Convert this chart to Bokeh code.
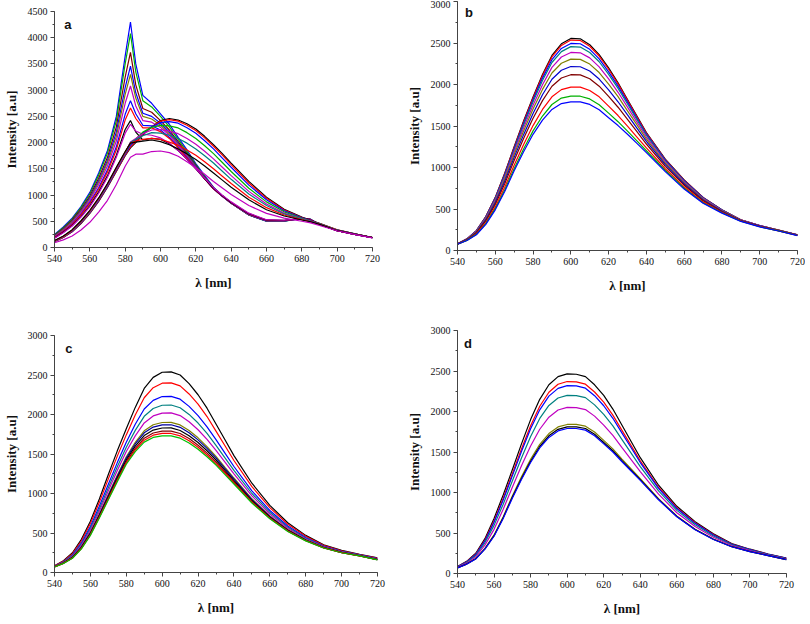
from bokeh.plotting import figure
from bokeh.layouts import row, column
from bokeh.models import Range1d, Label, SingleIntervalTicker
from bokeh.embed import file_html
from bokeh.resources import INLINE

# ---------------- data ----------------
# panel a wavelengths (nm)
wl_a = [540, 545, 550, 555, 560, 565, 570, 575, 580, 583, 586, 590, 595, 600, 605,
        610, 615, 620, 625, 630, 635, 640, 650, 660, 670, 680, 685, 690, 700, 710, 720]

# panel a : spectra with the sharp band at ~583 nm
a_peaked = [
    [250, 390, 560, 780, 1050, 1420, 1850, 2500, 3650, 4300, 3500, 2900, 2750, 2550, 2350, 2100, 1860, 1600, 1370, 1150, 990, 850, 620, 500, 500, 560, 540, 440, 320, 250, 190],
    [240, 375, 540, 760, 1020, 1380, 1800, 2420, 3500, 4080, 3350, 2800, 2680, 2500, 2300, 2060, 1825, 1580, 1350, 1140, 985, 850, 620, 500, 500, 555, 535, 440, 320, 250, 190],
    [230, 360, 520, 730, 980, 1320, 1720, 2300, 3250, 3720, 3100, 2650, 2580, 2420, 2240, 2020, 1790, 1560, 1335, 1130, 980, 845, 625, 505, 505, 555, 535, 440, 320, 250, 190],
    [220, 345, 500, 705, 950, 1275, 1660, 2200, 3050, 3460, 2950, 2560, 2500, 2370, 2200, 1990, 1770, 1545, 1325, 1125, 975, 845, 625, 505, 505, 550, 530, 440, 320, 250, 190],
    [215, 340, 490, 690, 930, 1245, 1620, 2120, 2920, 3300, 2850, 2500, 2450, 2330, 2170, 1970, 1755, 1535, 1320, 1120, 975, 845, 625, 510, 510, 550, 530, 440, 320, 250, 190],
    [205, 325, 470, 665, 900, 1200, 1560, 2030, 2750, 3080, 2700, 2420, 2390, 2290, 2140, 1950, 1740, 1525, 1315, 1120, 975, 850, 630, 510, 510, 550, 530, 440, 320, 250, 190],
    [195, 310, 450, 635, 860, 1140, 1480, 1920, 2540, 2800, 2550, 2330, 2320, 2240, 2100, 1920, 1720, 1515, 1310, 1120, 975, 850, 635, 515, 515, 550, 530, 440, 320, 250, 190],
    [190, 305, 440, 620, 840, 1110, 1440, 1860, 2430, 2660, 2460, 2280, 2280, 2210, 2080, 1900, 1705, 1510, 1310, 1120, 980, 855, 640, 520, 515, 550, 530, 440, 320, 250, 190],
    [180, 290, 420, 590, 800, 1060, 1370, 1760, 2250, 2420, 2200, 2050, 2080, 2060, 1980, 1850, 1680, 1500, 1310, 1130, 985, 860, 645, 525, 520, 550, 530, 440, 320, 250, 190],
    [175, 280, 410, 580, 780, 1035, 1340, 1720, 2180, 2350, 2220, 2160, 2140, 2090, 1990, 1850, 1680, 1500, 1320, 1140, 995, 870, 655, 530, 520, 550, 530, 440, 320, 250, 190],
]
a_peaked_colors = ["#0000FF", "#00B000", "#800000", "#0000FF", "#808000",
                   "#C000C0", "#0000FF", "#FF0000", "#000000", "#C000C0"]

# panel a : broad spectra centred near 600 nm
a_broad = [
    [110, 190, 300, 455, 650, 880, 1150, 1450, 1750, 1900, 2000, 2150, 2300, 2420, 2460, 2430, 2360, 2260, 2120, 1960, 1790, 1610, 1260, 960, 730, 580, 520, 460, 335, 260, 190],
    [115, 195, 305, 465, 660, 890, 1160, 1460, 1760, 1920, 2020, 2160, 2300, 2410, 2440, 2410, 2330, 2230, 2090, 1930, 1760, 1580, 1230, 940, 715, 570, 515, 455, 335, 260, 190],
    [120, 200, 310, 475, 670, 900, 1170, 1480, 1780, 1950, 2050, 2180, 2300, 2380, 2400, 2370, 2285, 2180, 2035, 1880, 1705, 1530, 1190, 910, 700, 565, 510, 450, 330, 260, 190],
    [125, 205, 320, 485, 680, 915, 1190, 1500, 1800, 1990, 2070, 2200, 2290, 2330, 2320, 2280, 2190, 2080, 1940, 1790, 1620, 1450, 1130, 870, 680, 555, 505, 450, 330, 260, 190],
    [125, 205, 320, 485, 680, 915, 1190, 1500, 1800, 2010, 2080, 2170, 2240, 2250, 2220, 2170, 2080, 1970, 1835, 1690, 1530, 1370, 1070, 830, 655, 545, 500, 445, 330, 255, 190],
    [130, 210, 330, 495, 690, 925, 1200, 1510, 1810, 2000, 2060, 2130, 2190, 2180, 2140, 2080, 1990, 1880, 1750, 1610, 1455, 1300, 1020, 800, 640, 540, 495, 445, 330, 255, 190],
    [130, 210, 330, 500, 700, 935, 1210, 1520, 1820, 1990, 2030, 2060, 2080, 2060, 2010, 1950, 1860, 1760, 1635, 1500, 1360, 1220, 960, 760, 620, 530, 490, 440, 325, 255, 190],
    [135, 220, 340, 510, 710, 945, 1220, 1530, 1830, 1990, 2010, 2030, 2050, 2020, 1960, 1880, 1785, 1680, 1555, 1420, 1285, 1150, 910, 720, 600, 525, 490, 440, 325, 255, 190],
    [90, 145, 220, 335, 480, 675, 900, 1200, 1550, 1720, 1780, 1780, 1830, 1840, 1810, 1740, 1635, 1520, 1395, 1260, 1135, 1010, 800, 650, 560, 500, 470, 420, 320, 250, 185],
]
a_broad_colors = ["#000000", "#FF0000", "#0000FF", "#00B000", "#C000C0",
                  "#008080", "#FF0000", "#000000", "#C000C0"]

# panels b, c, d wavelengths (nm)
wl_bcd = [540, 545, 550, 555, 560, 565, 570, 575, 580, 585, 590, 595, 600, 605, 610,
          615, 620, 625, 630, 635, 640, 650, 660, 670, 680, 690, 700, 710, 720]

b_curves = [
    [80, 140, 240, 410, 640, 930, 1250, 1560, 1850, 2120, 2350, 2490, 2555, 2550, 2480, 2360, 2200, 2020, 1820, 1620, 1420, 1100, 850, 640, 490, 370, 300, 245, 190],
    [80, 140, 239, 408, 636, 924, 1242, 1550, 1838, 2106, 2333, 2471, 2535, 2530, 2461, 2343, 2184, 2007, 1809, 1611, 1414, 1096, 847, 638, 489, 369, 300, 245, 190],
    [80, 138, 236, 403, 628, 913, 1227, 1531, 1815, 2077, 2299, 2434, 2495, 2491, 2424, 2308, 2153, 1980, 1787, 1594, 1401, 1088, 841, 635, 487, 368, 299, 244, 189],
    [79, 137, 234, 398, 620, 901, 1212, 1512, 1791, 2048, 2265, 2396, 2456, 2451, 2386, 2274, 2122, 1953, 1765, 1577, 1389, 1080, 836, 631, 485, 367, 298, 244, 189],
    [79, 136, 229, 389, 607, 881, 1186, 1478, 1751, 1998, 2206, 2331, 2386, 2382, 2321, 2213, 2067, 1906, 1727, 1547, 1367, 1067, 826, 625, 481, 366, 297, 243, 188],
    [78, 133, 224, 379, 591, 858, 1156, 1440, 1704, 1941, 2139, 2256, 2306, 2303, 2246, 2144, 2005, 1853, 1683, 1513, 1342, 1051, 814, 617, 477, 363, 295, 242, 187],
    [78, 131, 218, 368, 574, 833, 1122, 1396, 1651, 1877, 2063, 2172, 2217, 2214, 2162, 2066, 1935, 1792, 1634, 1474, 1314, 1034, 801, 609, 472, 361, 293, 241, 186],
    [77, 129, 211, 356, 554, 804, 1084, 1349, 1593, 1806, 1979, 2079, 2118, 2116, 2069, 1980, 1857, 1726, 1580, 1432, 1283, 1014, 787, 600, 467, 359, 291, 239, 184],
    [76, 125, 202, 337, 525, 761, 1028, 1277, 1505, 1699, 1852, 1938, 1969, 1968, 1928, 1851, 1740, 1626, 1498, 1367, 1236, 985, 766, 586, 459, 355, 289, 237, 182],
    [75, 122, 195, 324, 504, 730, 986, 1224, 1441, 1620, 1759, 1836, 1860, 1859, 1826, 1756, 1655, 1552, 1438, 1320, 1202, 964, 750, 576, 454, 352, 286, 236, 181],
    [75, 120, 190, 315, 490, 710, 960, 1190, 1400, 1570, 1700, 1770, 1790, 1790, 1760, 1695, 1600, 1505, 1400, 1290, 1180, 950, 740, 570, 450, 350, 285, 235, 180],
]
b_colors = ["#000000", "#FF0000", "#0000FF", "#008080", "#C000C0", "#808000",
            "#0000CC", "#800000", "#FF0000", "#00B000", "#0000FF"]

c_curves = [
    [85, 150, 250, 420, 650, 930, 1240, 1540, 1820, 2090, 2330, 2470, 2535, 2540, 2500, 2390, 2250, 2080, 1880, 1680, 1480, 1130, 850, 630, 470, 350, 280, 230, 185],
    [82, 144, 238, 399, 619, 888, 1185, 1473, 1742, 1993, 2212, 2339, 2396, 2400, 2362, 2260, 2131, 1974, 1790, 1604, 1418, 1087, 821, 611, 458, 343, 275, 227, 181],
    [79, 137, 223, 374, 581, 838, 1117, 1391, 1648, 1876, 2070, 2179, 2227, 2230, 2194, 2103, 1986, 1844, 1681, 1511, 1342, 1034, 785, 588, 443, 335, 269, 222, 175],
    [77, 132, 214, 358, 557, 805, 1074, 1338, 1586, 1799, 1977, 2076, 2117, 2120, 2085, 2001, 1892, 1761, 1610, 1452, 1293, 1000, 762, 573, 434, 329, 264, 220, 172],
    [75, 128, 205, 343, 534, 776, 1035, 1290, 1531, 1730, 1893, 1982, 2018, 2020, 1986, 1908, 1807, 1685, 1546, 1398, 1249, 970, 741, 559, 425, 324, 261, 217, 169],
    [73, 122, 195, 325, 508, 740, 987, 1232, 1465, 1648, 1793, 1870, 1899, 1900, 1868, 1798, 1705, 1594, 1469, 1332, 1196, 933, 716, 543, 415, 318, 256, 214, 165],
    [73, 121, 192, 321, 501, 732, 975, 1217, 1448, 1627, 1768, 1841, 1869, 1870, 1838, 1770, 1679, 1571, 1450, 1316, 1182, 923, 709, 539, 412, 317, 255, 213, 164],
    [72, 119, 189, 315, 492, 720, 959, 1198, 1425, 1599, 1734, 1803, 1829, 1830, 1798, 1732, 1645, 1541, 1424, 1294, 1164, 911, 701, 534, 409, 315, 254, 212, 163],
    [71, 118, 185, 309, 483, 708, 944, 1179, 1403, 1571, 1700, 1766, 1790, 1790, 1759, 1696, 1611, 1511, 1398, 1273, 1147, 899, 693, 528, 405, 313, 252, 211, 162],
    [71, 116, 183, 304, 477, 699, 932, 1164, 1387, 1551, 1675, 1738, 1760, 1760, 1730, 1668, 1586, 1488, 1379, 1256, 1133, 889, 686, 524, 403, 311, 251, 211, 161],
    [70, 115, 180, 300, 470, 690, 920, 1150, 1370, 1530, 1650, 1710, 1730, 1730, 1700, 1640, 1560, 1465, 1360, 1240, 1120, 880, 680, 520, 400, 310, 250, 210, 160],
]
c_colors = ["#000000", "#FF0000", "#0000FF", "#008080", "#C000C0", "#808000",
            "#0000A0", "#000000", "#800000", "#FF0000", "#00C000"]

d_curves = [
    [85, 150, 250, 430, 680, 970, 1280, 1600, 1900, 2150, 2330, 2430, 2465, 2460, 2430, 2330, 2200, 2030, 1830, 1630, 1430, 1090, 830, 640, 490, 370, 300, 240, 190],
    [83, 145, 240, 412, 649, 929, 1231, 1538, 1825, 2065, 2238, 2336, 2370, 2366, 2337, 2241, 2115, 1955, 1767, 1579, 1391, 1065, 812, 626, 480, 364, 296, 237, 187],
    [82, 142, 235, 402, 633, 908, 1205, 1505, 1786, 2021, 2190, 2286, 2320, 2316, 2288, 2195, 2071, 1916, 1733, 1552, 1370, 1051, 802, 619, 475, 361, 294, 236, 186],
    [79, 136, 222, 379, 594, 856, 1142, 1427, 1692, 1914, 2075, 2167, 2200, 2197, 2171, 2082, 1964, 1822, 1653, 1487, 1320, 1019, 779, 601, 462, 354, 288, 232, 182],
    [76, 128, 207, 350, 545, 792, 1065, 1329, 1574, 1781, 1930, 2018, 2050, 2048, 2024, 1943, 1831, 1704, 1553, 1406, 1258, 979, 750, 579, 447, 345, 282, 228, 178],
    [71, 118, 185, 310, 476, 701, 956, 1193, 1409, 1594, 1728, 1810, 1840, 1840, 1819, 1747, 1644, 1539, 1413, 1292, 1171, 923, 710, 547, 425, 333, 272, 221, 171],
    [70, 116, 182, 304, 467, 689, 941, 1173, 1386, 1568, 1700, 1780, 1810, 1810, 1790, 1719, 1618, 1516, 1394, 1276, 1158, 915, 704, 543, 422, 331, 271, 221, 171],
    [70, 115, 180, 300, 460, 680, 930, 1160, 1370, 1550, 1680, 1760, 1790, 1790, 1770, 1700, 1600, 1500, 1380, 1265, 1150, 910, 700, 540, 420, 330, 270, 220, 170],
]
d_colors = ["#000000", "#FF0000", "#0000FF", "#008080", "#C000C0", "#808000",
            "#000000", "#0000FF"]

x_label = "λ [nm]"
y_label = "Intensity [a.u]"

SERIF = "'Liberation Serif', 'Times New Roman', serif"


def make_panel(letter, ymax, fw, fh, bl, bt, br, bb, letter_xy):
    p = figure(output_backend="svg", toolbar_location=None,
               frame_width=fw, frame_height=fh,
               min_border_left=bl, min_border_top=bt,
               min_border_right=br, min_border_bottom=bb,
               x_range=Range1d(540, 720), y_range=Range1d(0, ymax))
    p.outline_line_color = None
    p.grid.visible = False
    p.background_fill_color = "white"
    p.border_fill_color = "white"
    p.xaxis.ticker = SingleIntervalTicker(interval=20, num_minor_ticks=2)
    p.yaxis.ticker = SingleIntervalTicker(interval=500, num_minor_ticks=2)
    for ax in (p.xaxis[0], p.yaxis[0]):
        ax.axis_line_color = "#444444"
        ax.major_tick_line_color = "#444444"
        ax.minor_tick_line_color = "#444444"
        ax.major_tick_in = 0
        ax.major_tick_out = 4
        ax.minor_tick_in = 0
        ax.minor_tick_out = 2
        ax.major_label_text_font = SERIF
        ax.major_label_text_font_size = "10px"
        ax.major_label_text_color = "#111111"
        ax.major_label_standoff = 3
        ax.axis_label_text_font = SERIF
        ax.axis_label_text_font_size = "13px"
        ax.axis_label_text_font_style = "bold"
        ax.axis_label_text_color = "#111111"
    p.xaxis.axis_label = x_label
    p.yaxis.axis_label = y_label
    p.xaxis.axis_label_standoff = 10
    p.yaxis.axis_label_standoff = 6
    lab = Label(x=letter_xy[0], y=letter_xy[1], text=letter,
                text_font="Liberation Sans", text_font_style="bold",
                text_font_size="13px", text_baseline="top", text_align="left",
                text_color="#111111")
    p.add_layout(lab)
    return p


pa = make_panel("a", 4500, 318, 236, 49, 11, 25, 60, (545.5, 4390))
for ys, c in zip(a_peaked, a_peaked_colors):
    pa.line(wl_a, ys, line_color=c, line_width=1.2)
for ys, c in zip(a_broad, a_broad_colors):
    pa.line(wl_a, ys, line_color=c, line_width=1.2)

pc = make_panel("c", 3000, 323, 237, 49, 28, 20, 40, (546, 2935))
for ys, c in zip(c_curves, c_colors):
    pc.line(wl_bcd, ys, line_color=c, line_width=1.2)

pb = make_panel("b", 3000, 340, 249, 60, 1, 8, 55, (544, 2960))
for ys, c in zip(b_curves, b_colors):
    pb.line(wl_bcd, ys, line_color=c, line_width=1.2)

pd_ = make_panel("d", 3000, 329, 243, 59, 25, 19, 38, (543.5, 2935))
for ys, c in zip(d_curves, d_colors):
    pd_.line(wl_bcd, ys, line_color=c, line_width=1.2)

layout = row(column(pa, pc, spacing=0), column(pb, pd_, spacing=0), spacing=0)

open("out.html", "w").write(file_html(layout, INLINE))
